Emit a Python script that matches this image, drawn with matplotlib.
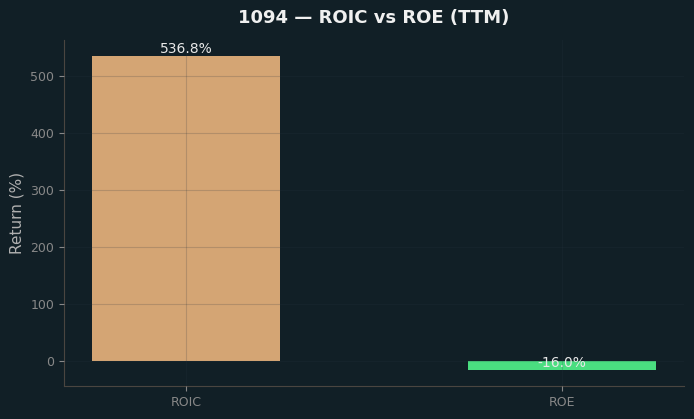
import matplotlib.pyplot as plt

metrics = ["ROIC", "ROE"]
values = [536.8, -16.0]
colors = ["#d4a574", "#4ade80"]

bg = "#111f26"

fig, ax = plt.subplots(figsize=(6.94, 4.19), dpi=100)
fig.patch.set_facecolor(bg)
ax.set_facecolor(bg)

bars = ax.bar(metrics, values, width=0.5, color=colors)
for b, v in zip(bars, values):
    ax.text(b.get_x() + b.get_width() / 2, v, f"{v:.1f}%",
            ha="center", va="bottom", color="#e8e8e8", fontsize=10)

# grid sits on top of the bars, barely visible on the background
ax.grid(True, color="#2a3540", alpha=0.2, linewidth=0.8)
ax.set_axisbelow(False)
ax.set_ylabel("Return (%)", color="#b0b0b0", fontsize=11)
ax.set_title("1094 — ROIC vs ROE (TTM)", color="#f0f0f0", fontsize=13,
             fontweight="bold", pad=12)
ax.tick_params(colors="#888888", labelsize=9)
for side in ("top", "right"):
    ax.spines[side].set_visible(False)
for side in ("left", "bottom"):
    ax.spines[side].set_color("#4a4540")

fig.subplots_adjust(left=0.092, right=0.986, top=0.905, bottom=0.079)
fig.savefig("out.png", dpi=100, facecolor=bg)
